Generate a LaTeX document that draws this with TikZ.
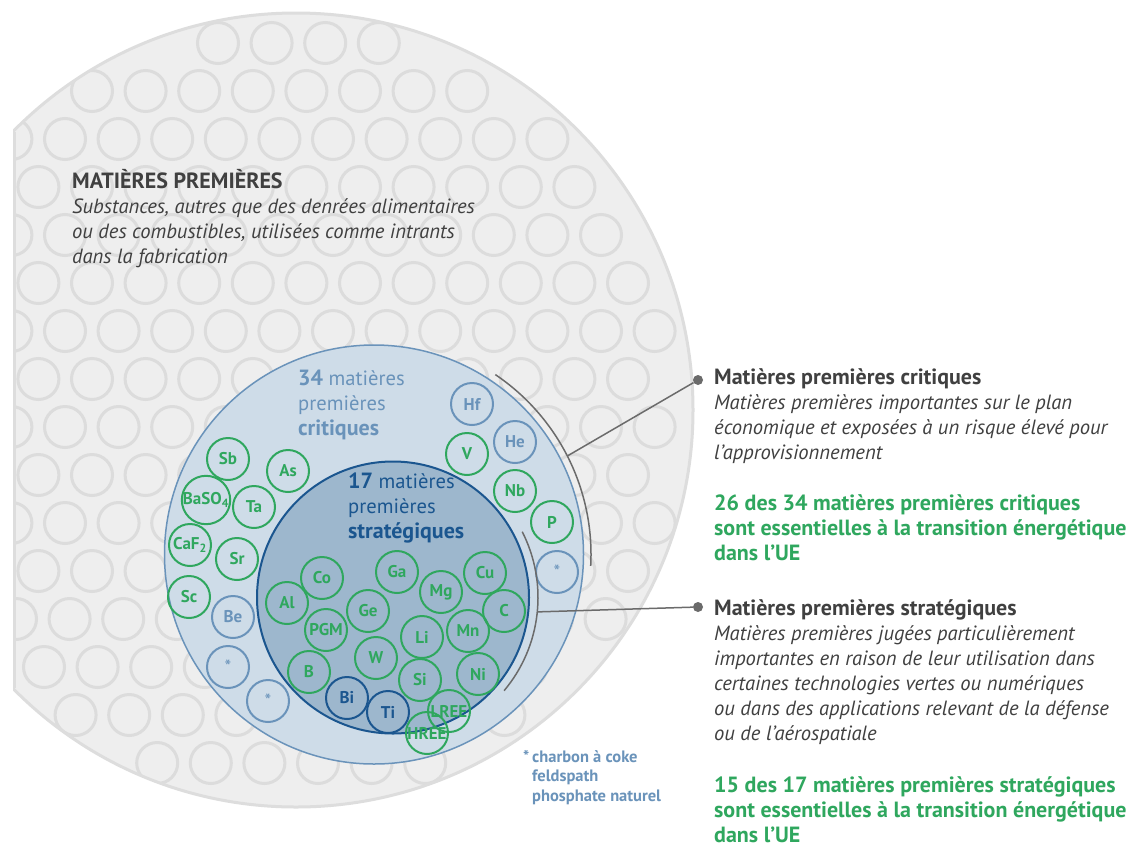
\documentclass[tikz,border=0pt]{standalone}
\usepackage{fontspec}
\setmainfont{PT Sans}
\definecolor{bggrey}{HTML}{EEEEEE}
\definecolor{patgrey}{HTML}{DCDCDC}
\definecolor{rimgrey}{HTML}{DDDDDD}
\definecolor{critfill}{HTML}{CEDCE8}
\definecolor{critblue}{HTML}{6A93BA}
\definecolor{stratfill}{HTML}{9DB7CD}
\definecolor{stratblue}{HTML}{1B568F}
\definecolor{eugreen}{HTML}{2FA75E}
\definecolor{txtgrey}{HTML}{404040}
\definecolor{leadgrey}{HTML}{6B6B6B}
\newcommand\bigb[1]{{\fontsize{22}{25}\selectfont\bfseries #1}}

\begin{document}
\begin{tikzpicture}[x=1pt,y=-1pt,
  elem/.style={circle,draw,line width=2pt,minimum size=42pt,inner sep=0pt,
    font=\fontsize{17}{17}\selectfont\bfseries},
  elgreen/.style={elem,draw=eugreen,text=eugreen},
  elcrit/.style={elem,draw=critblue,text=critblue},
  elstrat/.style={elem,draw=stratblue,text=stratblue},
  txt/.style={anchor=base west,align=left,inner sep=0pt,text=txtgrey,
    font=\fontsize{20.6}{25}\selectfont},
  ess/.style={txt,text=eugreen,font=\fontsize{22}{25}\selectfont\bfseries},
  dot/.style={circle,fill=leadgrey,inner sep=0pt,minimum size=10pt},
  lead/.style={draw=leadgrey,line width=1.5pt}]
\useasboundingbox[fill=white] (0,0) rectangle (1131,846);
% raw materials disc with its pattern
\begin{scope}
  \clip (13,0) rectangle (1131,846);
  \fill[bggrey] (296,410) circle (397);
  \begin{scope}
    \clip (296,410) circle (397);
    \foreach \y/\xo in {43/3.6,91/38.4,139/11.4,187/38.4,235/11.4,283/38.4,
        331/11.4,379/38.4,427/11.4,475/38.4,523/11.4,571/38.4,619/16,667/44,
        715/22,763/50}
      \foreach \k in {0,...,14}{
        \pgfmathsetmacro\xc{\xo+53.6*\k}
        \pgfmathtruncatemacro\ison{(veclen(\xc-296,\y-410)<381 || \xc<20) ? 1 : 0}
        \ifnum\ison=1 \draw[patgrey,line width=3pt] (\xc,\y) circle (20.5);\fi
      }
  \end{scope}
  \draw[rimgrey,line width=3pt] (296,410) circle (397);
\end{scope}
\draw[rimgrey,line width=3pt] (14.5,132) -- (14.5,688);

\coordinate (critc) at (374,554.5);
\coordinate (stratc) at (393,597.5);
\draw[critblue,fill=critfill,line width=1.5pt] (critc) circle (209.5);
\draw[stratblue,fill=stratfill,line width=2pt] (stratc) circle (136);

% base west of a multi-line node sits on its last line
\node[txt] (rawlbl) at (72,263) {\bigb{MATIÈRES PREMIÈRES}\\
  \textit{Substances, autres que des denrées alimentaires}\\
  \textit{ou des combustibles, utilisées comme intrants}\\
  \textit{dans la fabrication}};
\node[txt,text=critblue] (critlbl) at (298,435)
  {\bigb{34} matières\\premières\\\bigb{critiques}};
\node[txt,text=stratblue] (stratlbl) at (348,538)
  {\bigb{17} matières\\premières\\\bigb{stratégiques}};

\foreach \nm/\x/\y/\lbl in {sb/228/459/Sb, as/288/471/As,
    baso/206/500/{BaSO\textsubscript{4}}, ta/254/507/Ta,
    caf/190/545/{CaF\textsubscript{2}}, sr/237/559/Sr, sc/189/597/Sc,
    v/467/454/V, nb/515/491/Nb, p/552/522/P, co/322/578/Co, al/287/603/Al,
    ga/397/572/Ga, mg/441/592/Mg, cu/485/573/Cu, c/504/611/C, ge/368/611/Ge,
    pgm/326/630/PGM, li/422/637/Li, mn/468/631/Mn, w/376/658/W, b/309/672/B,
    si/420/680/Si, ni/478/674/Ni, lree/449/711/LREE, hree/427/733/HREE}
  \node[elgreen] (\nm) at (\x,\y) {\lbl};
\foreach \nm/\x/\y/\lbl in {hf/472/404/Hf, he/515/442/He, be/233/617/Be}
  \node[elcrit] (\nm) at (\x,\y) {\lbl};
\foreach \nm/\x/\y in {stara/557/572, starb/228/667, starc/268/701}
  \node[elcrit,font=\fontsize{19}{19}\selectfont] (\nm) at (\x,\y) {\raisebox{-4pt}{*}};
\node[elstrat] (bi) at (347,698) {Bi};
\node[elstrat] (ti) at (388,712) {Ti};

\node[anchor=base west,align=left,inner sep=0pt,text=critblue,
  font=\fontsize{16.5}{19.5}\selectfont\bfseries] (note) at (532,801)
  {\llap{*\,}charbon à coke\\feldspath\\phosphate naturel};

\draw[lead] (critc) ++(-56:217) arc[start angle=-56,end angle=3,radius=217];
\draw[lead] (stratc) ++(-27:145) arc[start angle=-27,end angle=40,radius=145];
\path (critc) ++(-27:217) coordinate (critend);
\path (stratc) ++(5.7:145) coordinate (stratend);
\node[dot] (critdot) at (698,380) {};
\node[dot] (stratdot) at (698,607) {};
\draw[lead] (critend) -- (critdot);
\draw[lead] (stratend) -- (stratdot);

\node[txt] (critdesc) at (714,459) {\bigb{Matières premières critiques}\\
  \textit{Matières premières importantes sur le plan}\\
  \textit{économique et exposées à un risque élevé pour}\\
  \textit{l’approvisionnement}};
\node[ess] (critess) at (714,560) {26 des 34 matières premières critiques\\
  sont essentielles à la transition énergétique\\dans l’UE};
\node[txt] (stratdesc) at (714,740) {\bigb{Matières premières stratégiques}\\
  \textit{Matières premières jugées particulièrement}\\
  \textit{importantes en raison de leur utilisation dans}\\
  \textit{certaines technologies vertes ou numériques}\\
  \textit{ou dans des applications relevant de la défense}\\
  \textit{ou de l’aérospatiale}};
\node[ess] (stratess) at (714,842) {15 des 17 matières premières stratégiques\\
  sont essentielles à la transition énergétique\\dans l’UE};
\end{tikzpicture}
\end{document}
